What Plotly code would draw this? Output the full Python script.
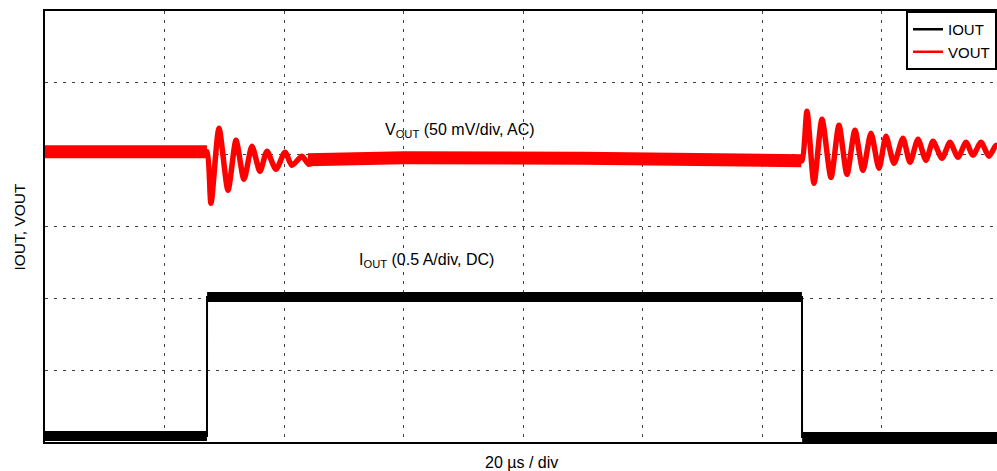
import plotly.graph_objects as go

# ---- data ----
# time in microseconds (20 us/div), VOUT in mV (AC coupled, 50 mV/div), IOUT in A (0.5 A/div)
# ringing after the load step up
ring_up_t = [26.6, 27.11, 27.78, 29.12, 30.63, 31.97, 33.30, 34.64, 35.98, 37.15, 38.66,
             40.17, 41.34, 43.01, 44.18, 46.02, 47.70, 49.5]
ring_up_mv = [0, 0, -35.8, 16.4, -26.8, 8.0, -19.1, 3.8, -13.6, 0.3, -12.2,
              -0.3, -9.4, -3.1, -8.7, -3.1, -7.5, -4.6]

# ringing after the load step down
ring_dn_t = [126.2, 126.69, 127.53, 128.70, 130.04, 131.55, 132.88, 134.22, 135.56, 136.90,
             138.24, 139.58, 140.75, 142.09, 143.59, 144.77, 146.11, 147.44, 148.62,
             150.12, 151.46, 152.80, 154.14, 155.31, 156.65, 157.99, 159.16, 159.4]
ring_dn_mv = [-6.2, -6.2, 28.2, -21.9, 22.6, -17.8, 18.4, -15.7, 15.0, -12.9,
              12.9, -11.5, 10.8, -8.0, 9.4, -7.3, 8.7, -5.9, 7.3,
              -4.5, 6.6, -3.8, 6.6, -2.4, 6.6, -3.1, 4.5, 3.0]

# quiet (noise-band) stretches of VOUT
vout_quiet_t = [0, 27.1, None, 44.0, 60, 90, 115, 126.6]
vout_quiet_mv = [0, 0, None, -5.5, -4.2, -4.5, -5.5, -6.2]

iout_t = [0, 27.11, 27.12, 126.69, 126.70, 159.4]
iout_a = [0.042, 0.042, 1.01, 1.01, 0.035, 0.035]

iout_quiet_t = [0, 27.1, None, 27.13, 126.68, None, 126.72, 159.4]
iout_quiet_a = [0.042, 0.042, None, 1.01, 1.01, None, 0.035, 0.035]

US_PER_DIV = 20
MV_PER_DIV = 50
A_PER_DIV = 0.5
VOUT_ZERO_DIV = 4.04   # screen position of the AC-coupled VOUT trace
N_DIV_Y = 6
X_MAX = 159.33


def vdiv(vals):
    return [None if v is None else VOUT_ZERO_DIV + v / MV_PER_DIV for v in vals]


def idiv(vals):
    return [None if v is None else v / A_PER_DIV for v in vals]


FONT = "Liberation Sans, Arial, sans-serif"

fig = go.Figure()

# IOUT
fig.add_trace(go.Scatter(x=iout_quiet_t, y=idiv(iout_quiet_a), mode="lines",
                         line=dict(color="black", width=10), showlegend=False,
                         hoverinfo="skip", connectgaps=False))
fig.add_trace(go.Scatter(x=iout_t, y=idiv(iout_a), mode="lines",
                         line=dict(color="black", width=2), showlegend=False))
# VOUT
fig.add_trace(go.Scatter(x=vout_quiet_t, y=vdiv(vout_quiet_mv), mode="lines",
                         line=dict(color="#ff0000", width=13), showlegend=False,
                         hoverinfo="skip", connectgaps=False))
for rt, rv in ((ring_up_t, ring_up_mv), (ring_dn_t, ring_dn_mv)):
    fig.add_trace(go.Scatter(x=rt, y=vdiv(rv), mode="lines",
                             line=dict(color="#ff0000", width=5.5, shape="spline", smoothing=0.7),
                             showlegend=False))

# legend entries
fig.add_trace(go.Scatter(x=[None], y=[None], mode="lines", name="IOUT",
                         line=dict(color="black", width=2.5)))
fig.add_trace(go.Scatter(x=[None], y=[None], mode="lines", name="VOUT",
                         line=dict(color="#ff0000", width=2.5)))

grid = dict(showgrid=True, gridcolor="#444444", gridwidth=1.3, griddash="3px,6px",
            zeroline=False, showticklabels=False, ticks="")

fig.update_xaxes(range=[0, X_MAX], dtick=US_PER_DIV, tick0=0, showline=True,
                 linecolor="black", linewidth=2, mirror=True, **grid)
fig.update_yaxes(range=[0, N_DIV_Y], dtick=1, tick0=0, showline=True,
                 linecolor="black", linewidth=2, mirror=False, **grid)

fig.add_annotation(x=69.45, y=4.33, text="V<sub>OUT</sub> (50 mV/div, AC)",
                   showarrow=False, font=dict(size=16, color="black", family=FONT))
fig.add_annotation(x=63.9, y=2.52, text="I<sub>OUT</sub> (0.5 A/div, DC)",
                   showarrow=False, font=dict(size=16, color="black", family=FONT))
fig.add_annotation(xref="paper", yref="paper", x=0.5, y=0, yanchor="top", yshift=-10,
                   text="20 µs / div", showarrow=False,
                   font=dict(size=16, color="black", family=FONT))
fig.add_annotation(xref="paper", yref="paper", x=0, y=0.5, xanchor="center",
                   xshift=-26, textangle=-90, text="IOUT, VOUT", showarrow=False,
                   font=dict(size=15.5, color="black", family=FONT))

fig.update_layout(
    width=997, height=471,
    margin=dict(l=45, r=0, t=11, b=29),
    paper_bgcolor="white", plot_bgcolor="white",
    font=dict(family=FONT, size=15, color="black"),
    showlegend=True,
    legend=dict(x=1, y=1, xanchor="right", yanchor="top", bgcolor="white",
                bordercolor="black", borderwidth=2, tracegroupgap=0,
                font=dict(size=15, family=FONT)),
)

fig.write_html("out.html")
